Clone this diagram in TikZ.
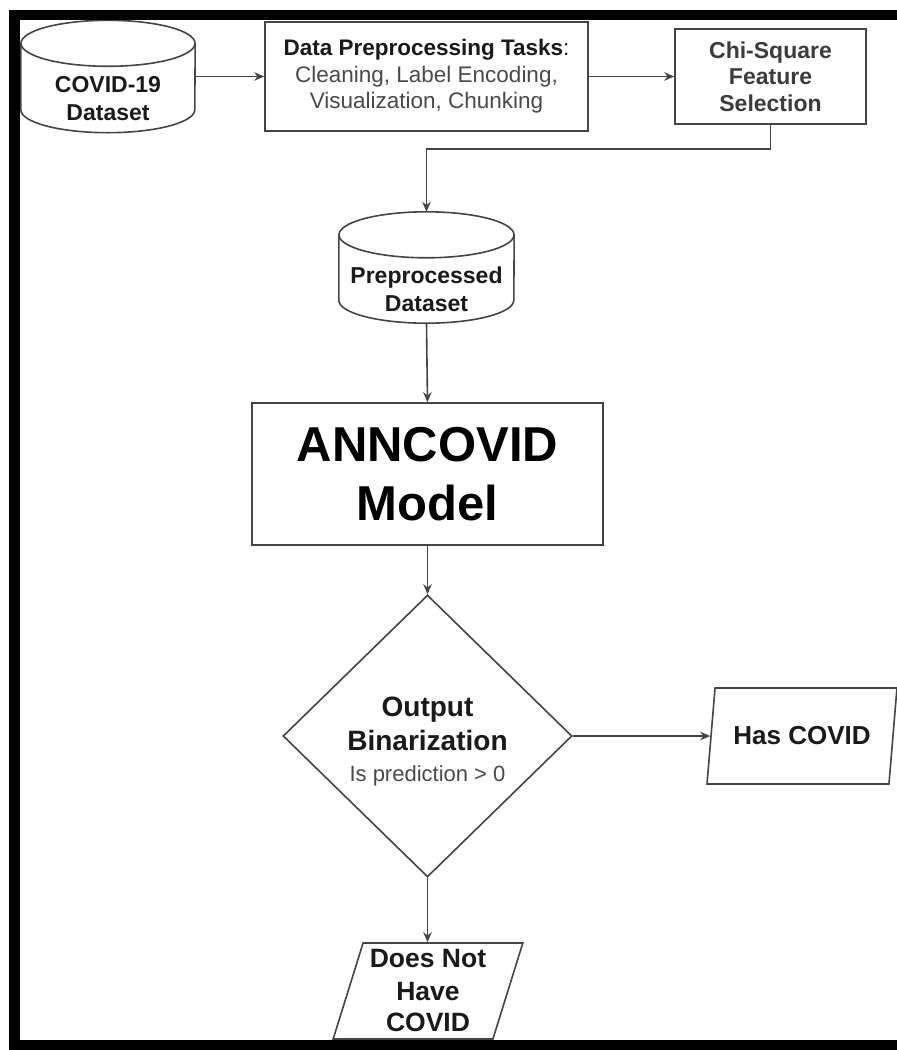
\documentclass[tikz,border=0pt]{standalone}
\usepackage{fontspec}
\setmainfont{Liberation Sans}
\usetikzlibrary{shapes.geometric,arrows.meta,calc}
\definecolor{linec}{HTML}{454545}
\definecolor{darktxt}{HTML}{1A1A1A}
\definecolor{greytxt}{HTML}{4A4A4A}
\tikzset{
  box/.style={draw=linec, line width=1.6pt, rectangle, inner sep=0pt, align=center, text=darktxt},
  ghost/.style={draw=none, rectangle, inner sep=0pt},
  cylline/.style={draw=linec, line width=1.6pt},
  txt/.style={inner sep=0pt, align=center, text=darktxt},
  conn/.style={draw=linec, line width=1.6pt, -{Stealth[length=10pt,width=8.5pt]}},
  para/.style={trapezium, trapezium stretches=true, draw=linec, line width=1.6pt, inner sep=0pt, align=center, text=darktxt, minimum height=96pt, minimum width=190pt},
}
\begin{document}
\begin{tikzpicture}[x=1pt,y=1pt]
\useasboundingbox (0,0) rectangle (897,-1050);
\fill[white] (0,0) rectangle (897,-1050);

% COVID-19 Dataset cylinder
\node[ghost, minimum width=174pt, minimum height=112pt] (ds1) at (108,-76.5) {};
\draw[cylline] ([yshift=-23pt]ds1.north west) -- ([yshift=23pt]ds1.south west)
  arc[start angle=180, end angle=360, x radius=87pt, y radius=23pt] -- ([yshift=-23pt]ds1.north east);
\draw[cylline] ([yshift=-23pt]ds1.north) ellipse [x radius=87pt, y radius=23pt];
\node[txt, font=\fontsize{23}{28}\selectfont\bfseries] (ds1t) at (108,-99) {COVID-19\\Dataset};

% Data preprocessing box
\node[box, minimum width=323pt, minimum height=109pt, font=\fontsize{22.5}{26.5}\selectfont] (prep) at (426.5,-76.5)
  {\textbf{Data Preprocessing Tasks}:\\\textcolor{greytxt}{Cleaning, Label Encoding,}\\\textcolor{greytxt}{Visualization, Chunking}};

% Chi-square box
\node[box, minimum width=191pt, minimum height=95pt, font=\fontsize{23}{26.5}\selectfont\bfseries, text=darktxt!85!white] (chi) at (770.5,-76.5)
  {Chi-Square\\Feature\\Selection};

% Preprocessed Dataset cylinder
\node[ghost, minimum width=175pt, minimum height=111pt] (ds2) at (426.5,-267.5) {};
\draw[cylline] ([yshift=-23pt]ds2.north west) -- ([yshift=23pt]ds2.south west)
  arc[start angle=180, end angle=360, x radius=87.5pt, y radius=23pt] -- ([yshift=-23pt]ds2.north east);
\draw[cylline] ([yshift=-23pt]ds2.north) ellipse [x radius=87.5pt, y radius=23pt];
\node[txt, font=\fontsize{23}{28}\selectfont\bfseries] (ds2t) at (426.5,-289) {Preprocessed\\Dataset};

% ANNCOVID model
\node[box, minimum width=351pt, minimum height=142pt, font=\fontsize{49}{59}\selectfont\bfseries, text=black] (model) at (427.5,-474)
  {ANNCOVID\\Model};

% Decision diamond
\node[diamond, aspect=1, draw=linec, line width=1.6pt, inner sep=0pt, minimum width=289pt, minimum height=282pt] (dia) at (427.5,-736) {};
\node[txt, font=\fontsize{28}{34}\selectfont] (diat) at (427.5,-741)
  {\textbf{Output}\\\textbf{Binarization}\\[-3pt]{\fontsize{22}{26}\selectfont\textcolor{greytxt}{Is prediction > 0}}};

% Outputs
\node[para, trapezium left angle=71, trapezium right angle=109, font=\fontsize{26}{31}\selectfont\bfseries] (has) at (802,-736) {Has COVID};
\node[para, trapezium left angle=72, trapezium right angle=108, font=\fontsize{26.5}{32}\selectfont\bfseries] (dnh) at (428,-991) {Does Not\\Have\\COVID};

% Connectors
\draw[conn] (ds1.east) -- (prep.west);
\draw[conn] (prep.east) -- (chi.west);
\draw[conn] (chi.south) -- ++(0,-24) -| (ds2.north);
\draw[conn] (ds2.south) -- (model.north);
\draw[conn] (model.south) -- (dia.north);
\draw[conn] (dia.east) -- (has.west);
\draw[conn] (dia.south) -- (dia.south |- dnh.north);

% Black frame (left, top, bottom)
\fill[black] (9,-10) rectangle (20,-1050);
\fill[black] (9,-10) rectangle (897,-20);
\fill[black] (9,-1040) rectangle (897,-1050);
\end{tikzpicture}
\end{document}
